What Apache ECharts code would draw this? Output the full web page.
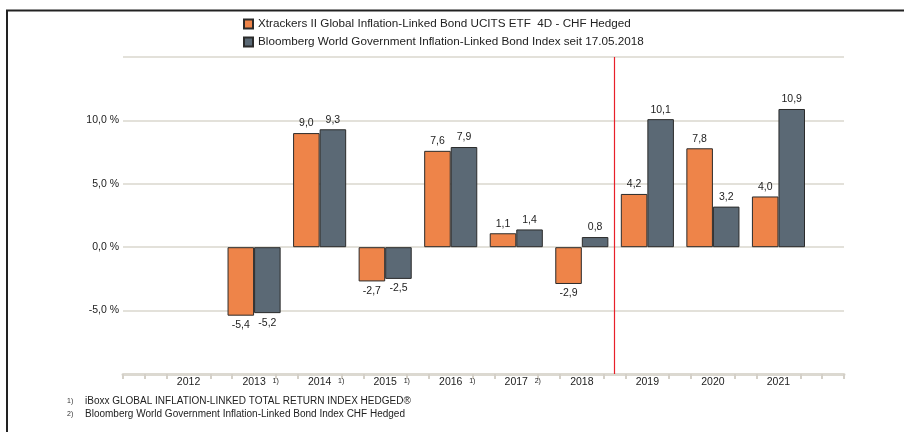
<!DOCTYPE html>
<html>
<head>
<meta charset="utf-8">
<script src="https://cdn.jsdelivr.net/npm/echarts@6/dist/echarts.min.js"></script>
<style>
  html, body { margin: 0; padding: 0; background: #fff; }
  #chart-container { width: 904px; height: 432px; }
</style>
</head>
<body>
<div id="chart-container"></div>
<script>
// years, with an empty slot at each end of the axis
var years = ['', '2012', '2013', '2014', '2015', '2016', '2017', '2018', '2019', '2020', '2021', ''];
// footnote marks per year
var yearNotes = ['', '', '1)', '1)', '1)', '1)', '2)', '', '', '', '', ''];
var fundValues = [null, null, -5.4, 9.0, -2.7, 7.6, 1.1, -2.9, 4.2, 7.8, 4.0, null];
var indexValues = [null, null, -5.2, 9.3, -2.5, 7.9, 1.4, 0.8, 10.1, 3.2, 10.9, null];
var seriesNames = [
    'Xtrackers II Global Inflation-Linked Bond UCITS ETF  4D - CHF Hedged',
    'Bloomberg World Government Inflation-Linked Bond Index seit 17.05.2018'
];
var yTicks = [-5, 0, 5, 10];
var footnotes = [
    ['1)', 'iBoxx GLOBAL INFLATION-LINKED TOTAL RETURN INDEX HEDGED®'],
    ['2)', 'Bloomberg World Government Inflation-Linked Bond Index CHF Hedged']
];
// fine tick axis: six steps per year, red marker between 2018 and 2019
var tickSteps = [];
for (var i = 0; i <= 66; i++) tickSteps.push(String(i));
var markerStep = 45;

var FONT = '"Liberation Sans", Arial, sans-serif';

function fmt(v) {
    return v.toFixed(1).replace('.', ',');
}

function barData(values) {
    return values.map(function (v) {
        if (v === null) return null;
        return { value: v, label: { position: v < 0 ? 'bottom' : 'top' } };
    });
}

var dom = document.getElementById('chart-container');
var myChart = echarts.init(dom, null, { renderer: 'canvas' });

var option = {
    animation: false,
    color: ['#ee8449', '#5b6975'],
    textStyle: { fontFamily: FONT },
    legend: {
        orient: 'vertical',
        left: 238,
        top: 13,
        itemWidth: 9,
        itemHeight: 9,
        itemGap: 6,
        icon: 'rect',
        textStyle: { fontSize: 11.7, color: '#222', fontFamily: FONT },
        data: seriesNames
    },
    title: {
        left: 62,
        top: 390,
        text: footnotes.map(function (f) {
            return '{m|' + f[0] + '}{t|' + f[1] + '}';
        }).join('\n'),
        textStyle: {
            fontWeight: 'normal',
            rich: {
                m: { fontSize: 7, width: 18, color: '#333', fontFamily: FONT, fontWeight: 'normal', lineHeight: 13 },
                t: { fontSize: 10, color: '#222', fontFamily: FONT, fontWeight: 'normal', lineHeight: 13 }
            }
        }
    },
    grid: { left: 123, right: 60, top: 57, bottom: 58 },
    xAxis: [
        {
            type: 'category',
            data: years,
            boundaryGap: false,
            position: 'bottom',
            axisLine: { onZero: false, lineStyle: { color: '#dcd9d1', width: 3 } },
            axisTick: { show: false },
            axisLabel: {
                margin: 2,
                interval: 0,
                formatter: function (val, idx) {
                    if (!val) return '';
                    var n = yearNotes[idx] || ' ';
                    return '{p|}{y|' + val + '}{s|' + n + '}';
                },
                rich: {
                    y: { fontSize: 10.5, color: '#222', fontFamily: FONT, lineHeight: 12 },
                    p: { width: 13, lineHeight: 12 },
                    s: { fontSize: 7, width: 13, align: 'right', color: '#222', fontFamily: FONT, lineHeight: 12, padding: [0, 0, 2, 0] }
                }
            }
        },
        {
            type: 'category',
            data: tickSteps,
            boundaryGap: false,
            position: 'bottom',
            axisLine: { show: false, onZero: false },
            axisLabel: { show: false },
            axisTick: {
                show: true,
                length: 5,
                lineStyle: { color: '#d4d0c8', width: 2 },
                interval: function (idx) {
                    if (idx === 0 || idx === 66) return true;
                    return idx % 2 === 0 && idx % 6 !== 0;
                }
            }
        }
    ],
    yAxis: {
        type: 'value',
        min: -10,
        max: 15,
        interval: 5,
        axisLine: { show: false },
        axisTick: { show: false },
        splitLine: { lineStyle: { color: '#e3e1da', width: 2 } },
        axisLabel: {
            margin: 4,
            fontSize: 10.5,
            color: '#222',
            fontFamily: FONT,
            formatter: function (v) {
                return yTicks.indexOf(v) >= 0 ? fmt(v) + ' %' : '';
            }
        }
    },
    series: [
        {
            name: seriesNames[0],
            type: 'bar',
            data: barData(fundValues),
            barGap: '0%',
            barCategoryGap: '19%',
            itemStyle: { borderColor: '#2b2b2b', borderWidth: 1 },
            label: {
                show: true,
                distance: 4,
                fontSize: 10.5,
                color: '#222',
                fontFamily: FONT,
                formatter: function (p) { return fmt(p.value); }
            }
        },
        {
            name: seriesNames[1],
            type: 'bar',
            data: barData(indexValues),
            barGap: '0%',
            barCategoryGap: '19%',
            itemStyle: { borderColor: '#2b2b2b', borderWidth: 1 },
            label: {
                show: true,
                distance: 4,
                fontSize: 10.5,
                color: '#222',
                fontFamily: FONT,
                formatter: function (p) { return fmt(p.value); }
            }
        },
        {
            name: 'marker',
            type: 'line',
            xAxisIndex: 1,
            data: [],
            silent: true,
            markLine: {
                symbol: ['none', 'none'],
                label: { show: false },
                lineStyle: { color: '#e8202a', width: 1.2, type: 'solid' },
                data: [{ xAxis: markerStep }]
            }
        }
    ],
    graphic: [
        {
            type: 'polyline',
            shape: { points: [[7, 432], [7, 10.5], [904, 10.5]] },
            style: { stroke: '#222', lineWidth: 2, fill: null },
            silent: true
        }
    ]
};

myChart.setOption(option);
window.addEventListener('resize', myChart.resize);
</script>
</body>
</html>
